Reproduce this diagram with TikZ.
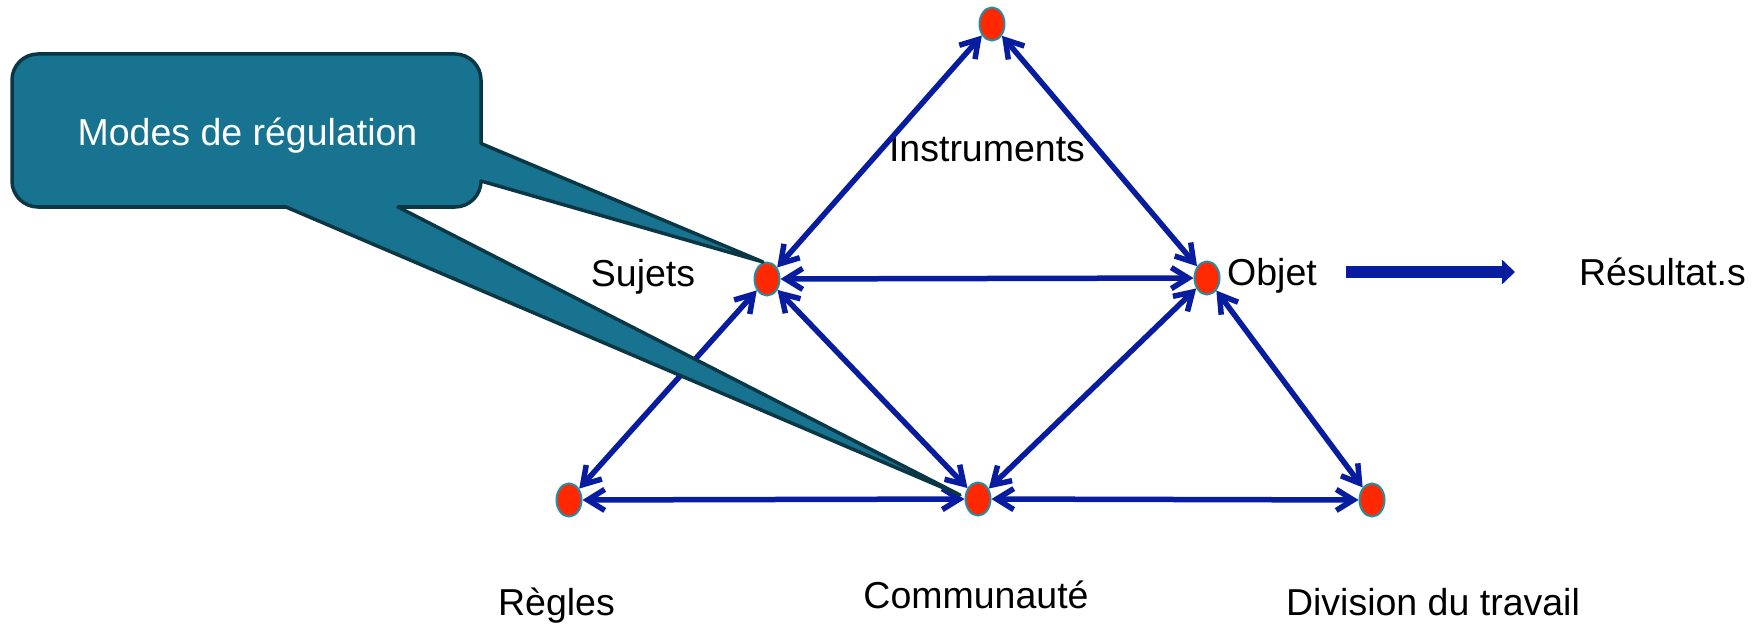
\documentclass[tikz,border=0pt]{standalone}
\usepackage{fontspec}
\setmainfont{Liberation Sans}
\usetikzlibrary{shapes.geometric,arrows.meta}
\definecolor{edgeblue}{RGB}{8,28,160}
\definecolor{dotred}{RGB}{255,40,0}
\definecolor{dotrim}{RGB}{40,140,160}
\definecolor{calfill}{RGB}{23,115,143}
\definecolor{calrim}{RGB}{10,55,70}
\tikzset{
  vertex/.style={ellipse, draw=dotrim, fill=dotred, line width=2pt,
    minimum width=25pt, minimum height=33pt, inner sep=0pt},
  lbl/.style={inner sep=0pt, anchor=base, font=\fontsize{37.5}{45}\selectfont},
  link/.style={draw=edgeblue, line width=5.5pt,
    {Straight Barb[length=17pt,width=21pt]}-{Straight Barb[length=17pt,width=21pt]}},
  bigarrow/.style={draw=edgeblue, line width=12pt, -{Triangle[length=13pt,width=24pt]}},
  callout/.style={fill=calfill, draw=calrim, line width=3.5pt, line join=round}
}
\begin{document}
\begin{tikzpicture}[x=1pt,y=1pt]
\useasboundingbox (0,0) rectangle (1755,625);
% vertices
\node[vertex] (T) at (992,601) {};
\node[vertex] (S) at (767,346) {};
\node[vertex] (O) at (1207,347) {};
\node[vertex] (R) at (569,125) {};
\node[vertex] (C) at (978,126) {};
\node[vertex] (D) at (1372,125) {};
% labels
\node[lbl] (linst) at (987,463.3) {Instruments};
\node[lbl] (lsuj) at (643,338.3) {Sujets};
\node[lbl] (lobj) at (1272,340) {Objet};
\node[lbl] (lres) at (1662.5,340) {Résultat.s};
\node[lbl] (lreg) at (556.5,10) {Règles};
\node[lbl] (lcom) at (976,17) {Communauté};
\node[lbl] (ldiv) at (1433,10) {Division du travail};
% connectors
\draw[link] (S) -- (T);
\draw[link] (T) -- (O);
\draw[link] (S) -- (O);
\draw[link] (S) -- (R);
\draw[link] (S) -- (C);
\draw[link] (O) -- (C);
\draw[link] (O) -- (D);
\draw[link] (R) -- (C);
\draw[link] (C) -- (D);
% thick arrow
\coordinate (a1) at (1346,353);
\coordinate (a2) at (1515,353);
\draw[bigarrow] (a1) -- (a2);
% callout
\path[callout] (38,571) -- (455,571) arc[start angle=90,end angle=0,radius=26]
  -- (481,481.5) -- (763,363) -- (481,444)
  arc[start angle=0,end angle=-90,radius=26]
  -- (398,418) -- (960,130) -- (286,418) -- (38,418)
  arc[start angle=270,end angle=180,radius=26]
  -- (12,545) arc[start angle=180,end angle=90,radius=26] -- cycle;
\node[lbl, text=white] (lmodes) at (247.5,479) {Modes de régulation};
\end{tikzpicture}
\end{document}
